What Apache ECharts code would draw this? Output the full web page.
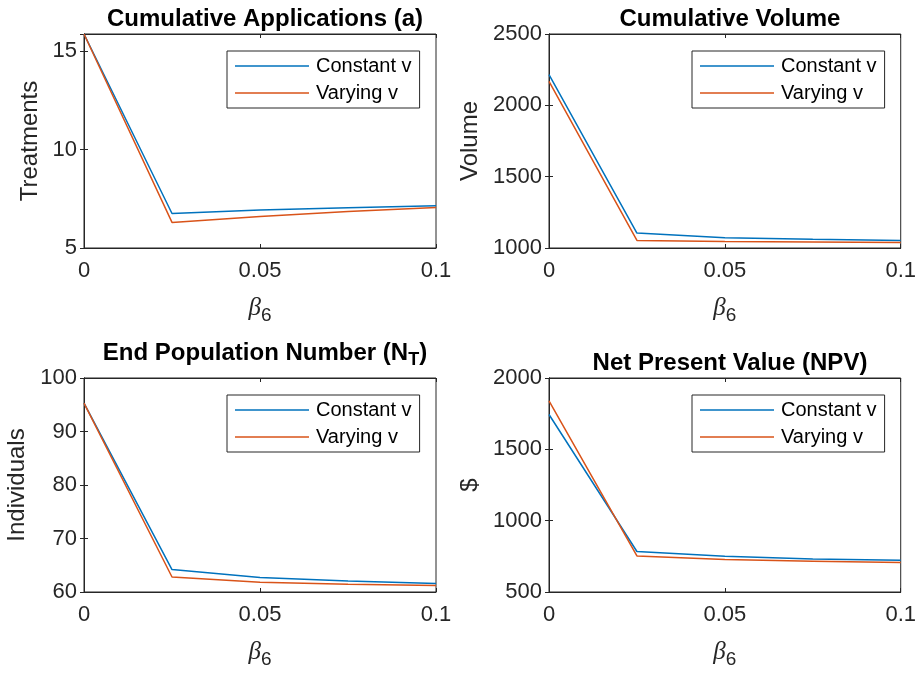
<!DOCTYPE html>
<html>
<head>
<meta charset="utf-8">
<script src="https://cdn.jsdelivr.net/npm/echarts@6/dist/echarts.min.js"></script>
<style>
  html, body { margin: 0; padding: 0; background: #fff; }
  #main { width: 919px; height: 673px; }
</style>
</head>
<body>
<div id="main"></div>
<script>
// beta_6 values on the x axis
var betaVals = [0, 0.025, 0.05, 0.075, 0.1];

// Cumulative applications (treatments)
var appsConst = [15.86, 6.75, 6.93, 7.04, 7.14];
var appsVary = [15.86, 6.30, 6.60, 6.85, 7.05];

// Cumulative volume
var volConst = [2215, 1105, 1072, 1061, 1053];
var volVary = [2168, 1053, 1046, 1042, 1038];

// End population number
var popConst = [95.3, 64.2, 62.7, 62.06, 61.6];
var popVary = [95.3, 62.8, 61.8, 61.44, 61.2];

// Net present value
var npvConst = [1744, 784, 750, 732, 722];
var npvVary = [1840, 753, 727, 716, 706];

var seriesNames = ["Constant v", "Varying v"];
var colors = ["#0072BD", "#D95319"];

var FONT = "Liberation Sans";
var INK = "#262626";

function pairs(ys) {
  return betaVals.map(function (x, i) {
    return [x, ys[i]];
  });
}

// panel layout
var panels = [
  { title: "Cumulative Applications (a)", yName: "Treatments", yMin: 5, yMax: 15.86, yStep: 5, nameGap: 42,
    left: 84, top: 34, titleTop: 2, c: appsConst, v: appsVary, hideMax: true },
  { title: "Cumulative Volume", yName: "Volume", yMin: 1000, yMax: 2500, yStep: 500, nameGap: 67,
    left: 549, top: 34, titleTop: 2, c: volConst, v: volVary },
  { title: "End Population Number (N{sub|T})", yName: "Individuals", yMin: 60, yMax: 100, yStep: 10, nameGap: 55,
    left: 84, top: 378, titleTop: 332, c: popConst, v: popVary },
  { title: "Net Present Value (NPV)", yName: "$", yMin: 500, yMax: 2000, yStep: 500, nameGap: 67,
    left: 549, top: 378, titleTop: 346, c: npvConst, v: npvVary },
];
var W = 352, H = 214;

var option = {
  backgroundColor: "#fff",
  animation: false,
  title: [],
  legend: [],
  grid: [],
  xAxis: [],
  yAxis: [],
  series: [],
};

panels.forEach(function (p, k) {
  option.grid.push({
    left: p.left, top: p.top, width: W, height: H,
    show: true, borderColor: INK, borderWidth: 1, backgroundColor: "#fff",
  });
  option.title.push({
    text: p.title,
    left: p.left + W / 2,
    top: p.titleTop,
    textAlign: "center",
    textStyle: {
      fontFamily: FONT, fontSize: 24, fontWeight: "bold", color: "#000",
      rich: {
        sub: { fontFamily: FONT, fontSize: 18, fontWeight: "bold", color: "#000", padding: [14, 0, 0, 0] },
      },
    },
  });
  option.legend.push({
    data: seriesNames,
    orient: "vertical",
    left: p.left + 143,
    top: p.top + 17,
    padding: [4, 8, 4, 8],
    itemGap: 5,
    itemWidth: 74,
    itemHeight: 1.5,
    icon: "rect",
    borderColor: INK,
    borderWidth: 1,
    backgroundColor: "#fff",
    selectedMode: false,
    textStyle: { fontFamily: FONT, fontSize: 20, color: "#000", lineHeight: 22, padding: [0, 0, 0, 2] },
  });
  // bottom x axis
  option.xAxis.push({
    type: "value", gridIndex: k, min: 0, max: 0.1, interval: 0.05,
    name: "{b|β}{s|6}",
    nameLocation: "middle",
    nameGap: 44,
    nameTextStyle: {
      rich: {
        b: { fontFamily: "Liberation Serif", fontStyle: "italic", fontSize: 25, color: INK },
        s: { fontFamily: FONT, fontSize: 19, color: INK, padding: [14, 0, 0, 0] },
      },
    },
    axisLine: { show: true, lineStyle: { color: INK } },
    axisTick: { show: true, inside: true, length: 4, lineStyle: { color: INK } },
    axisLabel: { fontFamily: FONT, fontSize: 22, color: INK, margin: 12 },
    splitLine: { show: false },
  });
  // top x axis, ticks only
  option.xAxis.push({
    type: "value", gridIndex: k, position: "top", min: 0, max: 0.1, interval: 0.05,
    axisLine: { show: true, lineStyle: { color: INK } },
    axisTick: { show: true, inside: true, length: 4, lineStyle: { color: INK } },
    axisLabel: { show: false },
    splitLine: { show: false },
  });
  // left y axis
  option.yAxis.push({
    type: "value", gridIndex: k, min: p.yMin, max: p.yMax, interval: p.yStep,
    name: p.yName,
    nameLocation: "middle",
    nameRotate: 90,
    nameGap: p.nameGap,
    nameTextStyle: { fontFamily: FONT, fontSize: 24, color: INK },
    axisLine: { show: true, lineStyle: { color: INK } },
    axisTick: { show: true, inside: true, length: 4, lineStyle: { color: INK } },
    axisLabel: {
      fontFamily: FONT, fontSize: 22, color: INK, margin: 7, showMaxLabel: !p.hideMax,
      formatter: function (val) { return String(val); },
    },
    splitLine: { show: false },
  });
  // right y axis, ticks only
  option.yAxis.push({
    type: "value", gridIndex: k, position: "right", min: p.yMin, max: p.yMax, interval: p.yStep,
    axisLine: { show: true, lineStyle: { color: INK } },
    axisTick: { show: true, inside: true, length: 4, lineStyle: { color: INK } },
    axisLabel: { show: false },
    splitLine: { show: false },
  });
  [p.c, p.v].forEach(function (ys, j) {
    option.series.push({
      name: seriesNames[j],
      type: "line",
      xAxisIndex: k * 2,
      yAxisIndex: k * 2,
      data: pairs(ys),
      showSymbol: false,
      symbol: "none",
      color: colors[j],
      lineStyle: { width: 1.5, color: colors[j] },
      z: 2 + j,
    });
  });
});

var myChart = echarts.init(document.getElementById("main"));
myChart.setOption(option);
</script>
</body>
</html>
